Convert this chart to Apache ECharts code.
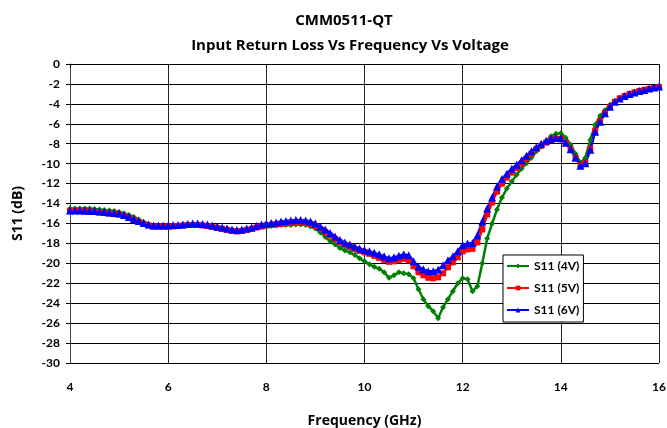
<!DOCTYPE html>
<html>
<head>
<meta charset="utf-8">
<script src="https://cdn.jsdelivr.net/npm/echarts@6/dist/echarts.min.js"></script>
<style>
  html, body { margin: 0; padding: 0; background: #fff; }
  #chart { width: 667px; height: 428px; }
</style>
</head>
<body>
<div id="chart"></div>
<script>
// 频率轴 (GHz)，0.1 步进
const freqGHz = [
  4.0, 4.1, 4.2, 4.3, 4.4, 4.5, 4.6, 4.7, 4.8, 4.9,
  5.0, 5.1, 5.2, 5.3, 5.4, 5.5, 5.6, 5.7, 5.8, 5.9,
  6.0, 6.1, 6.2, 6.3, 6.4, 6.5, 6.6, 6.7, 6.8, 6.9,
  7.0, 7.1, 7.2, 7.3, 7.4, 7.5, 7.6, 7.7, 7.8, 7.9,
  8.0, 8.1, 8.2, 8.3, 8.4, 8.5, 8.6, 8.7, 8.8, 8.9,
  9.0, 9.1, 9.2, 9.3, 9.4, 9.5, 9.6, 9.7, 9.8, 9.9,
  10.0, 10.1, 10.2, 10.3, 10.4, 10.5, 10.6, 10.7, 10.8, 10.9,
  11.0, 11.1, 11.2, 11.3, 11.4, 11.5, 11.6, 11.7, 11.8, 11.9,
  12.0, 12.1, 12.2, 12.3, 12.4, 12.5, 12.6, 12.7, 12.8, 12.9,
  13.0, 13.1, 13.2, 13.3, 13.4, 13.5, 13.6, 13.7, 13.8, 13.9,
  14.0, 14.1, 14.2, 14.3, 14.4, 14.5, 14.6, 14.7, 14.8, 14.9,
  15.0, 15.1, 15.2, 15.3, 15.4, 15.5, 15.6, 15.7, 15.8, 15.9, 16.0
];

// S11 (dB) @ 4V
const s11_4V = [
  -14.5, -14.5, -14.5, -14.5, -14.5, -14.55, -14.6, -14.65, -14.7, -14.75,
  -14.85, -15.0, -15.15, -15.35, -15.6, -15.85, -16.05, -16.2, -16.25, -16.25,
  -16.25, -16.25, -16.2, -16.15, -16.1, -16.1, -16.1, -16.15, -16.2, -16.3,
  -16.4, -16.5, -16.6, -16.7, -16.75, -16.7, -16.6, -16.5, -16.4, -16.3,
  -16.3, -16.25, -16.2, -16.15, -16.15, -16.15, -16.1, -16.1, -16.15, -16.3,
  -16.5, -16.9, -17.35, -17.75, -18.1, -18.45, -18.7, -18.9, -19.15, -19.5,
  -19.8, -20.1, -20.35, -20.55, -20.9, -21.45, -21.2, -20.9, -21.0, -21.1,
  -21.5, -22.6, -23.6, -24.3, -24.8, -25.5, -24.4, -23.6, -22.8, -22.0,
  -21.5, -21.6, -22.8, -22.3, -20.0, -17.5, -16.0, -14.6, -13.4, -12.5,
  -11.8, -11.1, -10.5, -9.95, -9.4, -8.75, -8.3, -7.75, -7.25, -7.0,
  -6.95, -7.4, -8.1, -9.0, -9.9, -9.4, -7.6, -6.1, -5.2, -4.65,
  -4.1, -3.7, -3.4, -3.15, -2.95, -2.8, -2.65, -2.55, -2.45, -2.35, -2.25
];

// S11 (dB) @ 5V
const s11_5V = [
  -14.75, -14.75, -14.75, -14.8, -14.8, -14.85, -14.9, -14.95, -15.0, -15.05,
  -15.1, -15.25, -15.45, -15.65, -15.85, -16.05, -16.2, -16.3, -16.3, -16.3,
  -16.3, -16.3, -16.25, -16.2, -16.15, -16.15, -16.15, -16.2, -16.25, -16.35,
  -16.45, -16.55, -16.65, -16.75, -16.8, -16.75, -16.65, -16.55, -16.4, -16.3,
  -16.2, -16.15, -16.1, -16.05, -16.0, -15.95, -15.9, -15.9, -15.95, -16.05,
  -16.25, -16.55, -16.85, -17.2, -17.55, -17.9, -18.15, -18.35, -18.55, -18.75,
  -18.9, -19.05, -19.25, -19.45, -19.65, -19.85, -19.8, -19.65, -19.55, -19.7,
  -20.3, -20.9, -21.2, -21.45, -21.5, -21.4, -21.0, -20.4, -19.9, -19.4,
  -18.8, -18.6, -18.55, -17.9, -16.6, -15.1, -13.9, -12.8, -12.0, -11.4,
  -10.9, -10.45, -10.0, -9.5, -9.0, -8.55, -8.2, -7.9, -7.65, -7.5,
  -7.5, -7.9, -8.55, -9.4, -10.15, -9.9, -8.5, -6.7, -5.7, -4.9,
  -4.3, -3.8, -3.45, -3.2, -3.0, -2.85, -2.7, -2.6, -2.5, -2.4, -2.3
];

// S11 (dB) @ 6V
const s11_6V = [
  -14.7, -14.7, -14.7, -14.7, -14.75, -14.75, -14.8, -14.85, -14.9, -14.95,
  -15.0, -15.15, -15.35, -15.55, -15.75, -15.95, -16.1, -16.2, -16.2, -16.2,
  -16.2, -16.15, -16.15, -16.1, -16.05, -16.0, -16.0, -16.05, -16.1, -16.2,
  -16.3, -16.4, -16.5, -16.6, -16.65, -16.6, -16.5, -16.4, -16.25, -16.1,
  -16.0, -15.95, -15.9, -15.8, -15.75, -15.7, -15.65, -15.65, -15.7, -15.8,
  -16.0, -16.3, -16.6, -16.95, -17.3, -17.65, -17.9, -18.1, -18.3, -18.5,
  -18.65, -18.8, -18.95, -19.1, -19.3, -19.5, -19.4, -19.25, -19.1, -19.2,
  -19.8, -20.35, -20.6, -20.8, -20.8, -20.65, -20.2, -19.7, -19.3, -18.8,
  -18.15, -18.0, -17.95, -17.2, -15.8, -14.5, -13.4, -12.3, -11.55, -11.0,
  -10.5, -10.1, -9.65, -9.2, -8.75, -8.35, -8.0, -7.7, -7.5, -7.4,
  -7.45, -7.9, -8.55, -9.4, -10.2, -9.95, -8.6, -6.8, -5.8, -4.95,
  -4.3, -3.8, -3.45, -3.2, -3.0, -2.85, -2.7, -2.6, -2.45, -2.35, -2.25
];

const seriesNames = ['S11 (4V)', 'S11 (5V)', 'S11 (6V)'];

const FONT = 'Lato';
const WIDE = 'Open Sans';
const toPairs = arr => freqGHz.map((f, i) => [f, arr[i]]);

const chart = echarts.init(document.getElementById('chart'));

chart.setOption({
  animation: false,
  backgroundColor: '#fff',
  textStyle: { fontFamily: FONT, fontWeight: 'bold', color: '#000' },
  title: [
    { text: 'CMM0511-QT', left: 339, textAlign: 'center', top: 8,
      textStyle: { fontFamily: WIDE, fontSize: 15, fontWeight: 'bold', color: '#000' } },
    { text: 'Input Return Loss Vs Frequency Vs Voltage', left: 345, textAlign: 'center', top: 33,
      textStyle: { fontFamily: WIDE, fontSize: 15, fontWeight: 'bold', color: '#000' } }
  ],
  // v6: 关掉 outerBounds 自动收缩，网格位置按像素固定
  grid: { left: 70, right: 8, top: 64, bottom: 65, containLabel: false, outerBoundsMode: 'none' },
  legend: {
    orient: 'vertical',
    left: 503, top: 255,
    data: seriesNames,
    backgroundColor: '#fff',
    borderColor: '#000',
    borderWidth: 1,
    borderRadius: 0,
    padding: [5, 4, 6, 3],
    itemWidth: 22, itemHeight: 6, itemGap: 10,
    textStyle: { fontFamily: FONT, fontSize: 12, fontWeight: 'bold', color: '#000' }
  },
  xAxis: {
    type: 'value', min: 4, max: 16, interval: 2,
    name: 'Frequency (GHz)', nameLocation: 'middle', nameGap: 51,
    nameTextStyle: { fontFamily: WIDE, fontSize: 14, fontWeight: 'bold', color: '#000' },
    axisLine: { lineStyle: { color: '#000', width: 1 } },
    axisTick: { show: true, length: 4, lineStyle: { color: '#000' } },
    axisLabel: { margin: 18, fontFamily: FONT, fontSize: 12, fontWeight: 'bold', color: '#000' },
    splitLine: { show: true, lineStyle: { color: '#222', width: 1 } }
  },
  yAxis: {
    type: 'value', min: -30, max: 0, interval: 2,
    name: 'S11 (dB)', nameLocation: 'middle', nameGap: 45, nameRotate: 90,
    nameTextStyle: { fontFamily: WIDE, fontSize: 14, fontWeight: 'bold', color: '#000' },
    axisLine: { show: true, lineStyle: { color: '#444', width: 1 } },
    axisTick: { show: true, length: 4, lineStyle: { color: '#000' } },
    axisLabel: { margin: 10, fontFamily: FONT, fontSize: 12, fontWeight: 'bold', color: '#000' },
    splitLine: { show: true, lineStyle: { color: '#000', width: 1 } }
  },
  series: [
    {
      name: seriesNames[0], type: 'line', data: toPairs(s11_4V),
      symbol: 'diamond', symbolSize: 6, showAllSymbol: true,
      itemStyle: { color: '#008000' }, lineStyle: { color: '#008000', width: 2.5 }
    },
    {
      name: seriesNames[1], type: 'line', data: toPairs(s11_5V),
      symbol: 'rect', symbolSize: 6, showAllSymbol: true,
      itemStyle: { color: '#ff0000' }, lineStyle: { color: '#ff0000', width: 2.5 }
    },
    {
      name: seriesNames[2], type: 'line', data: toPairs(s11_6V),
      symbol: 'triangle', symbolSize: 8, showAllSymbol: true,
      itemStyle: { color: '#0000ff' }, lineStyle: { color: '#0000ff', width: 2.5 }
    }
  ]
});
</script>
</body>
</html>
